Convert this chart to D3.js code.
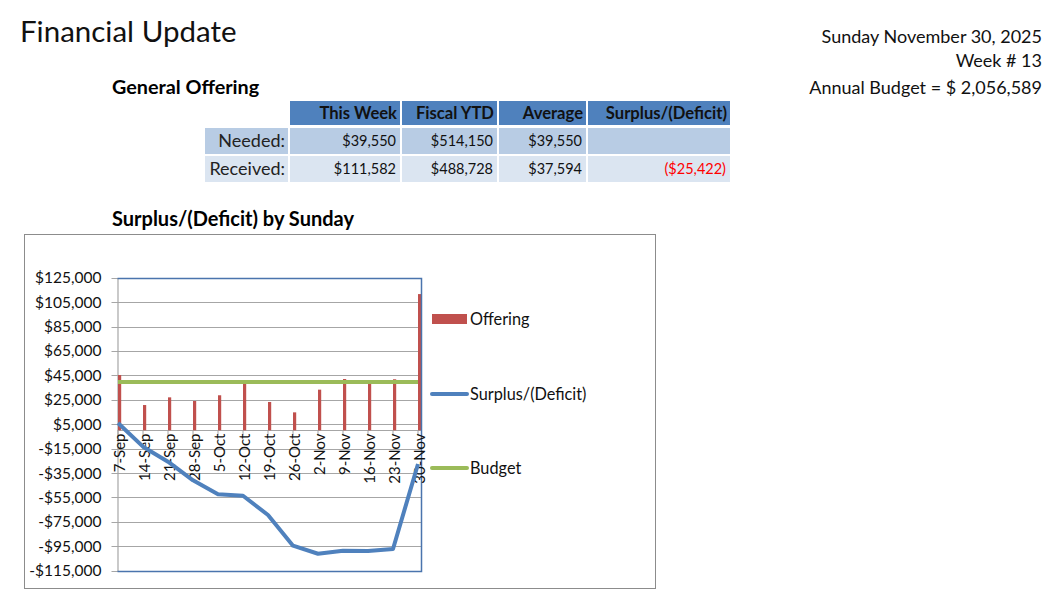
<!DOCTYPE html>
<html><head><meta charset="utf-8">
<script src="https://cdn.jsdelivr.net/npm/d3@7/dist/d3.min.js"></script>
<style>body{margin:0;background:#fff;} svg{display:block;} text{font-family:Lato, "Open Sans", sans-serif;}</style>
</head><body><svg id="c" width="1062" height="597"></svg>
<script>
// ---- data ----
const weeks = ["7-Sep","14-Sep","21-Sep","28-Sep","5-Oct","12-Oct","19-Oct","26-Oct","2-Nov","9-Nov","16-Nov","23-Nov","30-Nov"];
const offering = [45300,20700,27000,24000,28700,38500,23200,14700,33300,42000,39000,41800,111582];
const surplus = [5950,-13400,-25700,-41000,-52400,-53600,-69400,-94500,-101100,-98600,-98900,-97200,-27600];
const budget = [39550,39550,39550,39550,39550,39550,39550,39550,39550,39550,39550,39550,39550];
const yTicks = [125000,105000,85000,65000,45000,25000,5000,-15000,-35000,-55000,-75000,-95000,-115000];
const tableCols = ["This Week","Fiscal YTD","Average","Surplus/(Deficit)"];
const tableRows = ["Needed:","Received:"];
const neededVals = ["$39,550","$514,150","$39,550",""];
const receivedVals = ["$111,582","$488,728","$37,594","($25,422)"];
const legendItems = ["Offering","Surplus/(Deficit)","Budget"];

const svg = d3.select("#c");
const blue="#4f81bd", red="#c0504d", green="#9bbb59", grid="#a6a6a6";

// ---- header texts ----
svg.append("text").attr("x",20).attr("y",42).attr("font-size",29.5).attr("fill","#111").text("Financial Update");
svg.append("text").attr("x",112).attr("y",94).attr("font-size",19.8).attr("font-weight","bold").text("General Offering");
const rt = ["Sunday November 30, 2025","Week # 13","Annual Budget = $ 2,056,589"];
[43,67,94].forEach((y,i)=>svg.append("text").attr("x",1042).attr("y",y).attr("text-anchor","end").attr("font-size",18).attr("fill","#111").text(rt[i]));

// ---- table ----
const colX = [290,402,499,588,732];
const hdrY=101, hdrH=24;
tableCols.forEach((c,i)=>{
  svg.append("rect").attr("x",colX[i]).attr("y",hdrY).attr("width",colX[i+1]-colX[i]-2).attr("height",hdrH).attr("fill",blue);
  svg.append("text").attr("x",colX[i+1]-5).attr("y",hdrY+18).attr("text-anchor","end").attr("font-size",16.6).attr("font-weight","bold").attr("fill","#111").text(c);
});
const rowY=[128,156], rowH=26, rowFill=["#b8cce4","#dbe5f1"];
const rowVals=[neededVals,receivedVals];
tableRows.forEach((r,j)=>{
  svg.append("rect").attr("x",205).attr("y",rowY[j]).attr("width",83).attr("height",rowH).attr("fill",rowFill[j]);
  svg.append("text").attr("x",285).attr("y",rowY[j]+19).attr("text-anchor","end").attr("font-size",18).attr("fill","#222").text(r);
  rowVals[j].forEach((v,i)=>{
    svg.append("rect").attr("x",colX[i]).attr("y",rowY[j]).attr("width",colX[i+1]-colX[i]-2).attr("height",rowH).attr("fill",rowFill[j]);
    svg.append("text").attr("x",colX[i+1]-6).attr("y",rowY[j]+18).attr("text-anchor","end").attr("font-size",14.5)
      .attr("fill", v.startsWith("(")?"#ff0000":"#111").text(v);
  });
});

// ---- chart ----
svg.append("text").attr("x",112).attr("y",226).attr("font-size",20).attr("font-weight","bold").text("Surplus/(Deficit) by Sunday");
svg.append("rect").attr("x",24.5).attr("y",234.5).attr("width",631).attr("height",354).attr("fill","none").attr("stroke","#8c8c8c");

const pl=117.5, pr=421.5;
const y = d3.scaleLinear().domain([-115000,125000]).range([570.7,277.7]);
const x = d3.scalePoint().domain(weeks).range([119.5,419.5]);

const gGrid = svg.append("g");
yTicks.forEach(t=>{
  gGrid.append("line").attr("x1",pl-6).attr("x2",pr).attr("y1",Math.round(y(t))+0.5).attr("y2",Math.round(y(t))+0.5).attr("stroke",grid).attr("stroke-width",1.2);
});
// y axis
const yAxis = d3.axisLeft(y).tickValues(yTicks).tickSize(0).tickPadding(16)
  .tickFormat(v=>(v<0?"-$":"$")+d3.format(",")(Math.abs(v)));
const ga = svg.append("g").attr("transform",`translate(${pl},0)`).call(yAxis);
ga.select(".domain").attr("stroke",grid).attr("stroke-width",1.2);
ga.selectAll("text").attr("font-size",15.5).attr("fill","#111").attr("font-family","Lato, sans-serif");

// zero axis
const y0 = Math.round(y(0))+0.5;
svg.append("line").attr("x1",pl).attr("x2",pr).attr("y1",y0).attr("y2",y0).attr("stroke",grid).attr("stroke-width",1.2);
weeks.forEach(w=>svg.append("line").attr("x1",x(w)-1.5).attr("x2",x(w)-1.5).attr("y1",y0).attr("y2",y0+5).attr("stroke",grid));

// bars
svg.append("g").selectAll("rect").data(offering).join("rect")
  .attr("x",(d,i)=>x(weeks[i])-1.5).attr("width",3.2)
  .attr("y",d=>y(Math.max(d,0))).attr("height",d=>Math.abs(y(d)-y(0))).attr("fill",red);

// budget line
svg.append("path").datum(budget).attr("fill","none").attr("stroke",green).attr("stroke-width",4)
  .attr("d",d3.line().x((d,i)=>x(weeks[i])-1.5).y(d=>y(d)));

// plot frame top/right/bottom (blue)
svg.append("path").attr("d",`M${pl},${Math.round(y(125000))+0.5}H${pr}V${Math.round(y(-115000))+0.5}H${pl}`)
  .attr("fill","none").attr("stroke","#4a74ad").attr("stroke-width",1.5);

// category labels
svg.append("g").selectAll("text").data(weeks).join("text")
  .attr("transform",d=>`translate(${x(d)+5},${y0+3}) rotate(-90)`)
  .attr("text-anchor","end").attr("font-size",15).attr("fill","#111").text(d=>d);

// surplus line
svg.append("path").datum(surplus).attr("fill","none").attr("stroke",blue).attr("stroke-width",4).attr("stroke-linejoin","round")
  .attr("d",d3.line().x((d,i)=>x(weeks[i])-1.5).y(d=>y(d)));

// legend
const legY=[319,394,468];
svg.append("rect").attr("x",432).attr("y",314).attr("width",35).attr("height",10).attr("fill",red);
svg.append("line").attr("x1",432).attr("x2",467).attr("y1",legY[1]).attr("y2",legY[1]).attr("stroke",blue).attr("stroke-width",4).attr("stroke-linecap","round");
svg.append("line").attr("x1",432).attr("x2",467).attr("y1",legY[2]).attr("y2",legY[2]).attr("stroke",green).attr("stroke-width",4).attr("stroke-linecap","round");
legendItems.forEach((t,i)=>svg.append("text").attr("x",470).attr("y",legY[i]+5.5).attr("font-size",16.3).attr("fill","#111").text(t));
</script></body></html>
